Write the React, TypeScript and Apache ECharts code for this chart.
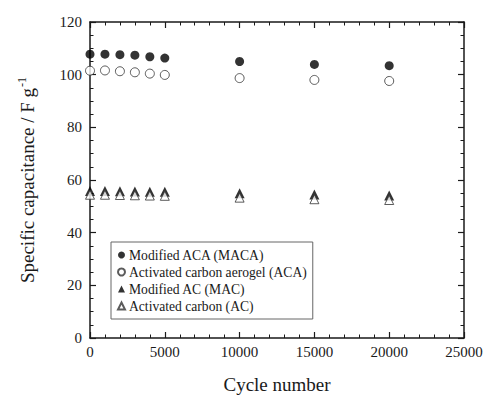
import React, { useEffect, useRef } from "react";
import * as echarts from "echarts";

const cycles = [0, 1000, 2000, 3000, 4000, 5000, 10000, 15000, 20000];
const maca = [107.8, 107.8, 107.6, 107.4, 106.8, 106.3, 105.0, 103.9, 103.4];
const aca = [101.5, 101.6, 101.3, 100.9, 100.4, 99.9, 98.7, 98.0, 97.6];
const mac = [55.8, 55.8, 55.7, 55.6, 55.5, 55.5, 55.0, 54.5, 54.1];
const ac = [54.4, 54.4, 54.3, 54.2, 54.1, 54.0, 53.3, 52.7, 52.4];
const seriesNames = [
  "Modified ACA (MACA)",
  "Activated carbon aerogel (ACA)",
  "Modified AC (MAC)",
  "Activated carbon (AC)",
];

const pairs = (ys: number[]) => cycles.map((c, i) => [c, ys[i]]);

const FONT = "Liberation Serif";
const INK = "#1a1a1a";

export default function App() {
  const ref = useRef<HTMLDivElement>(null);
  useEffect(() => {
    if (!ref.current) return;
    const chart = echarts.init(ref.current, undefined, { renderer: "svg" });
    const axisLine = { show: true, onZero: false, lineStyle: { color: INK, width: 1.5 } };
    const axisTick = { show: true, inside: true, length: 6, lineStyle: { color: INK, width: 1.2 } };
    const minorLine = { color: INK, width: 1 };
    chart.setOption({
      animation: false,
      backgroundColor: "#fff",
      textStyle: { fontFamily: FONT },
      grid: { left: 90, right: 25, top: 22, bottom: 59 },
      xAxis: [
        {
          type: "value",
          min: 0,
          max: 25000,
          interval: 5000,
          position: "bottom",
          axisLine,
          axisTick,
          minorTick: { show: true, splitNumber: 5, length: 3.5, lineStyle: minorLine },
          splitLine: { show: false },
          minorSplitLine: { show: false },
          axisLabel: { color: INK, fontFamily: FONT, fontSize: 15, margin: 6, formatter: (v: number) => String(v) },
          name: "Cycle number",
          nameLocation: "middle",
          nameGap: 37,
          nameTextStyle: { color: INK, fontFamily: FONT, fontSize: 19 },
        },
        {
          type: "value",
          min: 0,
          max: 25000,
          interval: 5000,
          position: "top",
          axisLine,
          axisTick,
          minorTick: { show: true, splitNumber: 5, length: 3.5, lineStyle: minorLine },
          splitLine: { show: false },
          minorSplitLine: { show: false },
          axisLabel: { show: false },
        },
      ],
      yAxis: [
        {
          type: "value",
          min: 0,
          max: 120,
          interval: 20,
          position: "left",
          axisLine,
          axisTick,
          minorTick: { show: true, splitNumber: 4, length: 3.5, lineStyle: minorLine },
          splitLine: { show: false },
          minorSplitLine: { show: false },
          axisLabel: { color: INK, fontFamily: FONT, fontSize: 15, margin: 8 },
          name: "{a|Specific capacitance / F g}{b|-1}",
          nameLocation: "middle",
          nameGap: 52,
          nameTextStyle: {
            color: INK,
            fontFamily: FONT,
            fontSize: 19,
            rich: {
              a: { fontFamily: FONT, fontSize: 19, color: INK },
              b: { fontFamily: FONT, fontSize: 12, color: INK, verticalAlign: "top", padding: [0, 0, 10, 1] },
            },
          },
        },
        {
          type: "value",
          min: 0,
          max: 120,
          interval: 20,
          position: "right",
          axisLine,
          axisTick,
          minorTick: { show: true, splitNumber: 4, length: 3.5, lineStyle: minorLine },
          splitLine: { show: false },
          minorSplitLine: { show: false },
          axisLabel: { show: false },
        },
      ],
      legend: {
        orient: "vertical",
        left: 111,
        top: 242,
        padding: [6, 6, 6, 6],
        itemGap: 3,
        itemWidth: 7,
        itemHeight: 7,
        borderColor: "#666",
        borderWidth: 1,
        backgroundColor: "#fff",
        textStyle: { fontFamily: FONT, fontSize: 13.6, color: INK, padding: [0, 0, 0, -1] },
        data: [
          { name: seriesNames[0], icon: "circle" },
          { name: seriesNames[1], icon: "circle" },
          { name: seriesNames[2], icon: "triangle" },
          { name: seriesNames[3], icon: "triangle" },
        ],
      },
      series: [
        {
          name: seriesNames[0],
          type: "scatter",
          data: pairs(maca),
          symbol: "circle",
          symbolSize: 9,
          itemStyle: { color: "#000" },
        },
        {
          name: seriesNames[1],
          type: "scatter",
          data: pairs(aca),
          symbol: "circle",
          symbolSize: 9,
          itemStyle: { color: "#fff", borderColor: "#333", borderWidth: 1 },
        },
        {
          name: seriesNames[2],
          type: "scatter",
          data: pairs(mac),
          symbol: "triangle",
          symbolSize: 10,
          itemStyle: { color: "#000" },
        },
        {
          name: seriesNames[3],
          type: "scatter",
          data: pairs(ac),
          symbol: "triangle",
          symbolSize: 9,
          itemStyle: { color: "#fff", borderColor: "#333", borderWidth: 1 },
        },
      ],
    });
    return () => chart.dispose();
  }, []);
  return <div ref={ref} style={{ width: 489, height: 399, position: "absolute", left: 0, top: 0 }} />;
}
